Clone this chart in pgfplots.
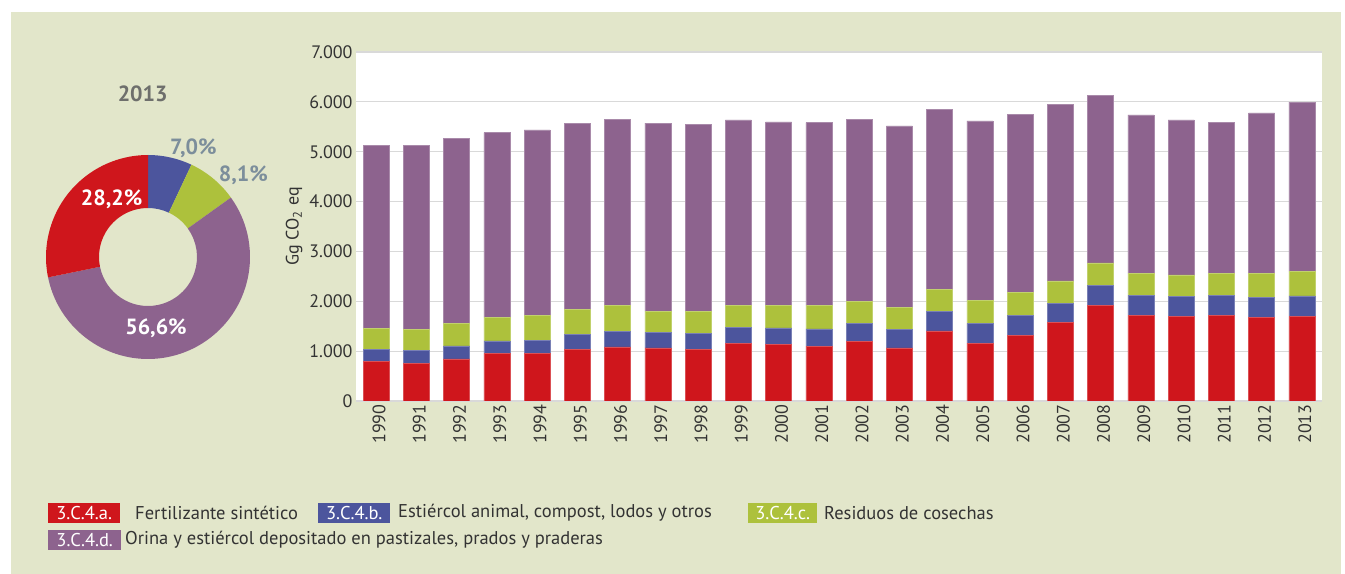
\documentclass[border=0pt]{standalone}
\usepackage{pgfplots}
\pgfplotsset{compat=1.18}
\usepackage{pgfplotstable}
\usepackage{fontspec}
\setmainfont{PT Sans}
\definecolor{bgc}{HTML}{E2E6CA}
\definecolor{cA}{HTML}{CF161C}
\definecolor{cB}{HTML}{4C559D}
\definecolor{cC}{HTML}{ADC13C}
\definecolor{cD}{HTML}{8D638E}
\definecolor{gridc}{HTML}{D9D9D9}
\definecolor{txt}{HTML}{333333}
\definecolor{pctgray}{HTML}{7C8E9B}
\definecolor{yeargray}{HTML}{6E6F6C}

\pgfplotstableread{
x a b c d
0 791 248 416 3674
1 758 261 423 3687
2 845 261 450 3707
3 952 255 463 3714
4 952 268 490 3728
5 1033 308 496 3735
6 1086 315 510 3741
7 1066 309 429 3768
8 1033 328 443 3741
9 1153 322 449 3715
10 1140 328 443 3688
11 1100 348 463 3674
12 1193 369 436 3654
13 1066 369 442 3641
14 1408 382 456 3607
15 1160 389 463 3607
16 1314 396 462 3581
17 1576 389 442 3547
18 1918 402 449 3366
19 1716 403 436 3184
20 1696 396 436 3111
21 1710 402 443 3030
22 1676 409 470 3225
23 1690 420 486 3398
}\datatable

\newcommand{\slice}[3]{%
  \fill[#1] (axis cs:0,0) ++({90-3.6*(#2)}:102bp)
    arc[start angle={90-3.6*(#2)}, end angle={90-3.6*(#3)}, radius=102bp]
    -- ++({270-3.6*(#3)}:53bp)
    arc[start angle={90-3.6*(#3)}, end angle={90-3.6*(#2)}, radius=49bp] -- cycle;}

\begin{document}
\begin{tikzpicture}
\path[use as bounding box] (0,0) rectangle (1345bp,574bp);
\fill[bgc] (11bp,0) rectangle (1341bp,562bp);

\begin{axis}[
  at={(356bp,173bp)}, anchor=south west,
  scale only axis, width=966bp, height=349bp,
  ybar stacked, bar width=26bp,
  xmin=-0.5, xmax=23.5, ymin=0, ymax=7000,
  axis background/.style={fill=white},
  axis line style={draw=none},
  ymajorgrids, grid style={gridc, line width=1.2bp},
  ytick={0,1000,...,7000},
  xtick={0,...,23},
  xticklabels={1990,1991,1992,1993,1994,1995,1996,1997,1998,1999,2000,2001,2002,2003,2004,2005,2006,2007,2008,2009,2010,2011,2012,2013},
  major tick length=0pt,
  x tick label style={rotate=90, anchor=east, font=\fontsize{18bp}{18bp}\selectfont, text=txt, xshift=0bp, yshift=-3bp},
  y tick label style={font=\fontsize{18bp}{18bp}\selectfont, text=txt},
  yticklabel style={/pgf/number format/.cd, 1000 sep={.}, assume math mode=true},
  scaled y ticks=false,
  ylabel={Gg CO\textsubscript{2} eq},
  ylabel style={font=\fontsize{18bp}{18bp}\selectfont, text=txt},
  every axis plot/.append style={line width=0.6bp},
]
\addplot[fill=cA, draw=cA!75!white] table[x=x, y=a]{\datatable};
\addplot[fill=cB, draw=cB!75!white] table[x=x, y=b]{\datatable};
\addplot[fill=cC, draw=cC!75!white] table[x=x, y=c]{\datatable};
\addplot[fill=cD, draw=cD!75!white] table[x=x, y=d]{\datatable};
\end{axis}

\begin{axis}[
  at={(46bp,215bp)}, anchor=south west,
  scale only axis, width=204bp, height=204bp,
  xmin=-1, xmax=1, ymin=-1, ymax=1, hide axis,
]
\slice{cB}{0}{7.0}
\slice{cC}{7.0}{15.1}
\slice{cD}{15.1}{71.8}
\slice{cA}{71.8}{100}
\end{axis}

\node[font=\bfseries\fontsize{22bp}{22bp}\selectfont, text=yeargray] at (142.7bp,479.7bp) {2013};
\node[font=\bfseries\fontsize{22bp}{22bp}\selectfont, text=white] at (111.7bp,374.7bp) {28,2\%};
\node[font=\bfseries\fontsize{22bp}{22bp}\selectfont, text=white] at (156bp,246bp) {56,6\%};
\node[font=\bfseries\fontsize{22bp}{22bp}\selectfont, text=pctgray] at (193.3bp,425.7bp) {7,0\%};
\node[font=\bfseries\fontsize{22bp}{22bp}\selectfont, text=pctgray] at (243.3bp,399bp) {8,1\%};

\begin{scope}[every node/.style={font=\fontsize{18.5bp}{18.5bp}\selectfont, inner sep=0pt}]
\node[fill=cA, text=white, anchor=west, minimum height=20bp, minimum width=72bp] at (48bp,61bp) {3.C.4.a.};
\node[text=txt, anchor=west] at (135bp,61bp) {Fertilizante sintético};
\node[fill=cB, text=white, anchor=west, minimum height=20bp, minimum width=72bp] at (318bp,61bp) {3.C.4.b.};
\node[text=txt, anchor=west] at (398bp,61bp) {Estiércol animal, compost, lodos y otros};
\node[fill=cC, text=white, anchor=west, minimum height=20bp, minimum width=69bp] at (748bp,61bp) {3.C.4.c.};
\node[text=txt, anchor=west] at (824bp,61bp) {Residuos de cosechas};
\node[fill=cD, text=white, anchor=west, minimum height=20bp, minimum width=73bp] at (48bp,34bp) {3.C.4.d.};
\node[text=txt, anchor=west] at (125bp,34bp) {Orina y estiércol depositado en pastizales, prados y praderas};
\end{scope}
\end{tikzpicture}
\end{document}
